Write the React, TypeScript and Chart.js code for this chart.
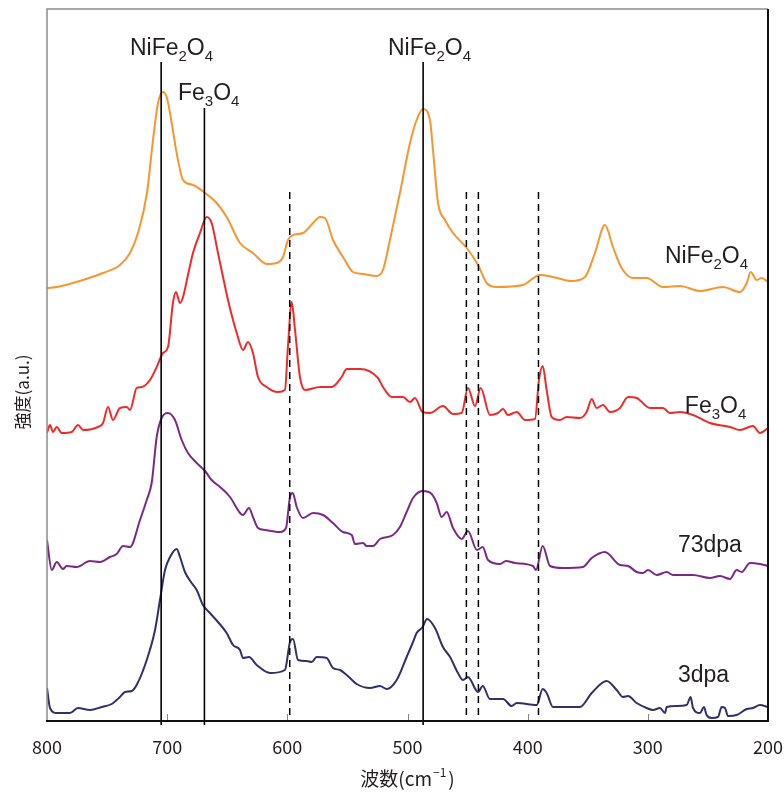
import React, { useEffect, useRef } from "react";
import { Chart, registerables } from "chart.js";

Chart.register(...registerables);

// ---- Data (wavenumber in cm^-1, intensity in arbitrary units incl. offset) ----
const nife2o4Wn = [800, 791.9, 770, 753.4, 739.3, 730.9, 724.3, 716.8, 711.8, 707.6, 703.7, 700.4, 696.2, 692.1, 686.8, 678.5, 668.5, 658.8, 650.5, 639.4, 628.6, 617.2, 608.9, 603.6, 599.5, 595.3, 587, 578.6, 572.8, 568.7, 562, 553.7, 545.4, 537, 525.6, 520.4, 514.6, 506.3, 497.9, 492.4, 487.1, 481.3, 478.8, 474.6, 468.8, 462.1, 450.7, 441.3, 434.1, 425.8, 403.9, 389.7, 378.9, 363.4, 352.3, 344, 335.7, 329, 321.8, 312.3, 301, 287.4, 273.2, 256.6, 237.5, 223.3, 217.7, 214.4, 209.4, 205.3, 200];
const nife2o4Int = [433, 434, 441, 448, 456, 468, 488, 528, 581, 618, 629, 624, 598, 568, 541, 536, 528, 518, 504, 478, 468, 457, 458, 464, 481, 486, 488, 498, 504, 503, 481, 464, 449, 447, 445, 451, 481, 528, 578, 601, 612, 601, 571, 518, 501, 488, 473, 456, 438, 434, 436, 446, 444, 440, 444, 468, 496, 474, 453, 443, 443, 434, 435, 430, 434, 429, 438, 449, 441, 443, 439];

const fe3o4Wn = [800, 797.5, 795, 791.9, 787.8, 779.4, 774.2, 770, 757.6, 753.4, 749.2, 745.1, 739.3, 733.7, 730.9, 725.4, 721.2, 714.3, 708.7, 703.5, 699.3, 695.2, 692.7, 689.3, 686.8, 682.7, 678.5, 672.7, 667.1, 663, 657.7, 653.5, 649.4, 642.1, 636.9, 632.7, 628.6, 624.4, 617.2, 607.8, 602, 599.5, 596.4, 593.6, 589.5, 585.3, 572.8, 563.1, 554.8, 550.6, 539.5, 524.6, 520.4, 513.2, 503.8, 497.9, 493.8, 487.4, 481.3, 470.5, 462.1, 454.9, 449.7, 443.8, 439.1, 431.4, 424.7, 420.5, 416.4, 409.1, 402.2, 393.9, 390.6, 387.5, 384.2, 380, 373.1, 367.5, 356.5, 350.9, 346.7, 342.6, 337.3, 331.5, 323.2, 316.5, 309.3, 298.2, 287.4, 281.6, 273.2, 262.4, 248.3, 231.6, 223.3, 212.5, 206.7, 200];
const fe3o4Int = [288, 296, 289, 294, 288, 289, 296, 291, 294, 298, 314, 301, 313, 314, 311, 333, 334, 341, 354, 368, 374, 418, 429, 418, 424, 446, 468, 488, 504, 498, 468, 444, 421, 388, 371, 379, 368, 344, 334, 329, 331, 374, 419, 391, 344, 331, 334, 334, 344, 352, 352, 343, 334, 324, 324, 319, 323, 309, 308, 315, 307, 308, 333, 315, 333, 306, 308, 312, 306, 309, 301, 302, 341, 355, 331, 304, 301, 304, 303, 309, 322, 313, 316, 309, 313, 324, 323, 313, 313, 308, 309, 306, 298, 294, 291, 295, 288, 293];

const dpa73Wn = [800, 796.1, 791.9, 786.7, 783.6, 775.3, 764.2, 755.9, 747.6, 742, 736.8, 730.9, 722.6, 717, 712.9, 708.7, 704.6, 699.3, 693.5, 687.9, 682.7, 675.4, 668.5, 663, 656, 647.7, 639.4, 636.9, 631.9, 628.6, 624.4, 618.6, 606.1, 601.1, 597.8, 595.5, 592.2, 587, 578.6, 570.3, 562, 553.7, 546.4, 543.7, 537, 534, 528.7, 522.9, 512.1, 506.3, 500.7, 495.4, 487.4, 479.9, 475.7, 471.6, 467.4, 462.1, 454.9, 449.7, 442.2, 437.4, 433, 423, 418, 410.6, 395.6, 393.1, 387.5, 381.4, 370.6, 354, 346.7, 335.7, 323.2, 316.5, 309.3, 304, 299.9, 292.6, 284.3, 279.1, 262.4, 248.3, 240, 231.6, 226.1, 221.9, 215, 206.7, 200];
const dpa73Int = [181, 151, 159, 152, 155, 154, 160, 159, 164, 167, 175, 174, 201, 221, 238, 284, 303, 308, 301, 281, 268, 258, 250, 241, 234, 224, 208, 206, 213, 204, 193, 191, 189, 193, 224, 228, 214, 203, 208, 206, 198, 189, 186, 177, 178, 175, 175, 182, 186, 194, 209, 223, 230, 227, 218, 204, 209, 193, 182, 190, 171, 174, 161, 157, 160, 158, 155, 151, 175, 155, 153, 154, 163, 169, 156, 155, 149, 148, 151, 146, 149, 146, 146, 143, 145, 142, 151, 149, 158, 157, 155];

const dpa3Wn = [800, 797.5, 791.9, 780.9, 774.2, 764.2, 754.5, 746.2, 739.3, 735.1, 729.5, 725.4, 717, 710.1, 706, 701.8, 697.6, 692.1, 689.3, 685.2, 679.6, 675.4, 670.2, 664.4, 657.7, 650.5, 645.2, 639.4, 636.9, 631.9, 625.5, 614.4, 602, 597.8, 595.3, 591.1, 583.9, 579.7, 575.6, 567.3, 562, 556.2, 550.6, 542.3, 531.2, 522.9, 517.3, 509, 500.7, 495.4, 492.4, 487.4, 483.8, 477.1, 470.5, 464.6, 458, 453.8, 449.7, 441.3, 437.4, 431.4, 420.5, 413.3, 409.1, 392.5, 387.5, 384.2, 378.9, 370.6, 356.5, 346.7, 334.3, 325.9, 320.7, 316.5, 309.3, 301, 295.7, 289.9, 285.7, 284.3, 276, 267.7, 264.4, 262.4, 256.6, 253.3, 251.1, 246.9, 241.6, 238.6, 235.8, 233.3, 226.1, 217.7, 212.5, 206.7, 200];
const dpa3Int = [33, 13, 8, 8, 13, 11, 14, 17, 24, 29, 30, 36, 61, 91, 121, 151, 164, 172, 164, 149, 138, 131, 116, 108, 99, 88, 76, 71, 63, 64, 56, 48, 51, 79, 82, 61, 60, 59, 64, 63, 53, 51, 46, 37, 33, 35, 32, 41, 64, 79, 88, 94, 102, 93, 74, 64, 48, 41, 44, 29, 35, 22, 22, 15, 18, 16, 32, 28, 14, 14, 14, 28, 40, 31, 24, 25, 18, 13, 11, 13, 8, 14, 15, 16, 24, 13, 8, 14, 6, 3, 4, 14, 13, 5, 6, 12, 13, 16, 14];

const xTickValues = [800, 700, 600, 500, 400, 300, 200];
const solidLineWn = [705, 669, 487];
const solidLineTop = [659, 613, 659];
const dashedLineWn = [598, 451, 441, 391];
const dashedLineTop = 529;

const seriesNames = ["NiFe2O4", "Fe3O4", "73dpa", "3dpa"];
const seriesColors = ["#F7962F", "#EE2B2B", "#7A2A86", "#2F3168"];

// label: text, subscript digits?, left wavenumber, baseline intensity
const labelTexts = ["NiFe2O4", "Fe3O4", "NiFe2O4", "NiFe2O4", "Fe3O4", "73dpa", "3dpa"];
const labelChem = [true, true, true, true, true, false, false];
const labelWn = [731, 691, 516.3, 285.8, 269.2, 275, 275];
const labelInt = [666, 621, 666, 458, 308, 169, 39];

const xTitle = "波数(cm";
const xTitleSup = "−1";
const yTitle = "強度(a.u.)";

const LABEL_FONT = "Arial, 'Liberation Sans', Helvetica, sans-serif";
const CJK_FONT = "'Liberation Sans Narrow', 'Noto Sans CJK JP', sans-serif";

function drawChemLabel(ctx: CanvasRenderingContext2D, text: string, chem: boolean, x: number, y: number) {
  const big = 23;
  const small = 15;
  let cx = x;
  ctx.textBaseline = "alphabetic";
  ctx.textAlign = "left";
  for (const ch of text.split("")) {
    const isSub = chem && /[0-9]/.test(ch);
    ctx.font = `${isSub ? small : big}px ${LABEL_FONT}`;
    ctx.fillText(ch, cx, isSub ? y + 6 : y);
    cx += ctx.measureText(ch).width;
  }
}

const overlayPlugin = {
  id: "overlay",
  beforeDatasetsDraw(chart: any) {
    const { ctx, chartArea } = chart;
    const xs = chart.scales.x;
    ctx.save();
    // inner tick marks
    ctx.strokeStyle = "#888";
    ctx.lineWidth = 1;
    for (const v of xTickValues) {
      if (v === 800 || v === 200) continue;
      const px = Math.round(xs.getPixelForValue(v)) + 0.5;
      ctx.beginPath();
      ctx.moveTo(px, chartArea.bottom);
      ctx.lineTo(px, chartArea.bottom - 7);
      ctx.stroke();
    }
    ctx.restore();
  },
  afterDatasetsDraw(chart: any) {
    const { ctx, chartArea } = chart;
    const xs = chart.scales.x;
    const ys = chart.scales.y;
    ctx.save();
    // reference lines
    ctx.strokeStyle = "#000";
    ctx.lineWidth = 1.6;
    solidLineWn.forEach((w, i) => {
      const px = xs.getPixelForValue(w);
      ctx.beginPath();
      ctx.moveTo(px, ys.getPixelForValue(solidLineTop[i]));
      ctx.lineTo(px, chartArea.bottom + 4);
      ctx.stroke();
    });
    ctx.setLineDash([7, 5]);
    ctx.lineWidth = 1.5;
    dashedLineWn.forEach((w) => {
      const px = xs.getPixelForValue(w);
      ctx.beginPath();
      ctx.moveTo(px, ys.getPixelForValue(dashedLineTop));
      ctx.lineTo(px, chartArea.bottom);
      ctx.stroke();
    });
    ctx.setLineDash([]);

    // frame
    ctx.lineWidth = 1.5;
    ctx.strokeStyle = "#8c8c8c";
    ctx.beginPath();
    ctx.moveTo(chartArea.left, chartArea.bottom);
    ctx.lineTo(chartArea.left, chartArea.top);
    ctx.lineTo(chartArea.right, chartArea.top);
    ctx.stroke();
    ctx.strokeStyle = "#111";
    ctx.lineWidth = 2;
    ctx.beginPath();
    ctx.moveTo(chartArea.right, chartArea.top);
    ctx.lineTo(chartArea.right, chartArea.bottom);
    ctx.lineTo(chartArea.left - 1, chartArea.bottom);
    ctx.stroke();

    // labels
    ctx.fillStyle = "#231f20";
    labelTexts.forEach((t, i) => {
      drawChemLabel(ctx, t, labelChem[i], xs.getPixelForValue(labelWn[i]), ys.getPixelForValue(labelInt[i]));
    });

    // x title with superscript
    const titleY = 779;
    const big = 19;
    const small = 12;
    ctx.font = `${big}px ${CJK_FONT}`;
    const w1 = ctx.measureText(xTitle).width;
    ctx.font = `${small}px ${CJK_FONT}`;
    const w2 = ctx.measureText(xTitleSup).width;
    ctx.font = `${big}px ${CJK_FONT}`;
    const w3 = ctx.measureText(")").width;
    const cx = (chartArea.left + chartArea.right) / 2;
    let sx = cx - (w1 + w2 + w3 + 3) / 2;
    ctx.textAlign = "left";
    ctx.textBaseline = "middle";
    ctx.fillText(xTitle, sx, titleY);
    sx += w1;
    ctx.font = `${small}px ${CJK_FONT}`;
    ctx.fillText(xTitleSup, sx + 1, titleY - 7);
    sx += w2 + 3;
    ctx.font = `${big}px ${CJK_FONT}`;
    ctx.fillText(")", sx, titleY);

    // y title
    ctx.save();
    ctx.translate(23, 392);
    ctx.rotate(-Math.PI / 2);
    ctx.font = `17px ${CJK_FONT}`;
    ctx.textAlign = "center";
    ctx.textBaseline = "middle";
    ctx.fillText(yTitle, 0, 0);
    ctx.restore();

    ctx.restore();
  },
};

export default function App() {
  const canvasRef = useRef<HTMLCanvasElement | null>(null);

  useEffect(() => {
    if (!canvasRef.current) return;
    const wns = [nife2o4Wn, fe3o4Wn, dpa73Wn, dpa3Wn];
    const ints = [nife2o4Int, fe3o4Int, dpa73Int, dpa3Int];
    const chart = new Chart(canvasRef.current, {
      type: "line",
      data: {
        datasets: seriesNames.map((name, i) => ({
          label: name,
          data: wns[i].map((x, j) => ({ x, y: ints[i][j] })),
          borderColor: seriesColors[i],
          backgroundColor: seriesColors[i],
          borderWidth: 2,
          pointRadius: 0,
          tension: 0.3,
          cubicInterpolationMode: "monotone",
          fill: false,
        })),
      },
      options: {
        animation: false,
        responsive: false,
        maintainAspectRatio: false,
        layout: { padding: { top: 9, right: 16, left: 47, bottom: 0 } },
        plugins: {
          legend: { display: false },
          tooltip: { enabled: false },
          title: { display: false },
        },
        scales: {
          x: {
            type: "linear",
            reverse: true,
            min: 200,
            max: 800,
            grid: { display: false, drawTicks: false },
            border: { display: false },
            afterFit: (scale: any) => {
              scale.height = 71;
              scale.paddingLeft = 0;
              scale.paddingRight = 0;
            },
            afterBuildTicks: (scale: any) => {
              scale.ticks = xTickValues.map((v) => ({ value: v }));
            },
            ticks: {
              color: "#231f20",
              font: { size: 18, family: CJK_FONT },
              padding: 15,
              maxRotation: 0,
              autoSkip: false,
            },
          },
          y: {
            display: false,
            min: 0,
            max: 712,
          },
        },
      },
      plugins: [overlayPlugin],
    } as any);
    return () => chart.destroy();
  }, []);

  return (
    <div style={{ position: "absolute", left: 0, top: 0, width: 784, height: 792, background: "#fff" }}>
      <canvas ref={canvasRef} width={784} height={792} style={{ width: 784, height: 792 }} />
    </div>
  );
}
